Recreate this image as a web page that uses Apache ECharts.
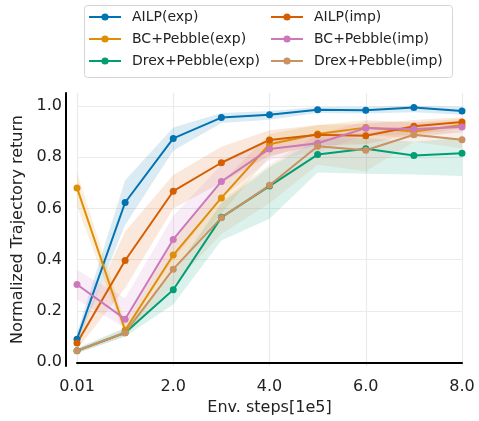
<!DOCTYPE html>
<html>
<head>
<meta charset="utf-8">
<script src="https://cdn.jsdelivr.net/npm/echarts@6/dist/echarts.min.js"></script>
<style>
  html, body { margin: 0; padding: 0; background: #fff; }
  #main { width: 479px; height: 421px; }
</style>
</head>
<body>
<div id="main"></div>
<script>
// x: env steps (1e5)
var steps = ['0.01', '1.0', '2.0', '3.0', '4.0', '5.0', '6.0', '7.0', '8.0'];
var yTicks = [0, 0.2, 0.4, 0.6, 0.8, 1.0];

// mean curves
var ailpExp = [0.09, 0.623, 0.873, 0.954, 0.965, 0.985, 0.983, 0.993, 0.980];
var bcExp   = [0.68, 0.125, 0.418, 0.641, 0.85, 0.89, 0.915, 0.90, 0.925];
var drexExp = [0.045, 0.115, 0.283, 0.565, 0.687, 0.810, 0.833, 0.806, 0.815];
var ailpImp = [0.075, 0.397, 0.667, 0.778, 0.867, 0.887, 0.883, 0.920, 0.937];
var bcImp   = [0.303, 0.168, 0.479, 0.705, 0.832, 0.854, 0.913, 0.910, 0.917];
var drexImp = [0.045, 0.115, 0.363, 0.564, 0.690, 0.842, 0.827, 0.887, 0.868];

// shaded bands (lower / upper)
var ailpExpLo = [0.07, 0.535, 0.825, 0.933, 0.946, 0.972, 0.97, 0.975, 0.965];
var ailpExpHi = [0.115, 0.71, 0.915, 0.972, 0.98, 0.995, 0.995, 1.0, 0.995];
var bcExpLo   = [0.61, 0.10, 0.36, 0.58, 0.80, 0.86, 0.885, 0.875, 0.90];
var bcExpHi   = [0.74, 0.155, 0.47, 0.70, 0.89, 0.925, 0.945, 0.935, 0.95];
var drexExpLo = [0.035, 0.10, 0.225, 0.475, 0.56, 0.74, 0.735, 0.732, 0.726];
var drexExpHi = [0.055, 0.135, 0.35, 0.62, 0.76, 0.87, 0.875, 0.86, 0.875];
var ailpImpLo = [0.05, 0.29, 0.60, 0.70, 0.805, 0.845, 0.85, 0.89, 0.91];
var ailpImpHi = [0.10, 0.51, 0.73, 0.84, 0.905, 0.925, 0.93, 0.945, 0.955];
var bcImpLo   = [0.245, 0.135, 0.40, 0.64, 0.79, 0.82, 0.885, 0.885, 0.895];
var bcImpHi   = [0.36, 0.25, 0.57, 0.77, 0.87, 0.89, 0.94, 0.935, 0.94];
var drexImpLo = [0.035, 0.10, 0.30, 0.50, 0.62, 0.77, 0.745, 0.86, 0.835];
var drexImpHi = [0.055, 0.13, 0.42, 0.63, 0.77, 0.89, 0.895, 0.915, 0.90];

var groups = [
  { name: 'AILP(exp)', color: '#0173B2', mean: ailpExp, lo: ailpExpLo, hi: ailpExpHi },
  { name: 'BC+Pebble(exp)', color: '#DE8F05', mean: bcExp, lo: bcExpLo, hi: bcExpHi },
  { name: 'Drex+Pebble(exp)', color: '#029E73', mean: drexExp, lo: drexExpLo, hi: drexExpHi },
  { name: 'AILP(imp)', color: '#D55E00', mean: ailpImp, lo: ailpImpLo, hi: ailpImpHi },
  { name: 'BC+Pebble(imp)', color: '#CC78BC', mean: bcImp, lo: bcImpLo, hi: bcImpHi },
  { name: 'Drex+Pebble(imp)', color: '#CA9161', mean: drexImp, lo: drexImpLo, hi: drexImpHi }
];

function hexA(hex, a) {
  var r = parseInt(hex.slice(1, 3), 16), g = parseInt(hex.slice(3, 5), 16), b = parseInt(hex.slice(5, 7), 16);
  return 'rgba(' + r + ',' + g + ',' + b + ',' + a + ')';
}

var series = [];
// bands first (stack lower + width), lines on top
groups.forEach(function (g, i) {
  series.push({
    name: 'band-lo-' + i, type: 'line', stack: 'band' + i, silent: true,
    symbol: 'none', lineStyle: { opacity: 0 },
    data: g.lo,
    z: 1
  });
  series.push({
    name: 'band-hi-' + i, type: 'line', stack: 'band' + i, silent: true,
    symbol: 'none', lineStyle: { opacity: 0 },
    areaStyle: { color: hexA(g.color, 0.2) },
    data: g.hi.map(function (v, k) { return +(v - g.lo[k]).toFixed(4); }),
    z: 1
  });
});
groups.forEach(function (g) {
  series.push({
    name: g.name, type: 'line', symbol: 'circle', symbolSize: 7,
    color: g.color,
    lineStyle: { width: 2, color: g.color },
    itemStyle: { color: g.color },
    data: g.mean,
    z: 3
  });
});

var font = 'DejaVu Sans';
var legendCommon = {
  orient: 'vertical', top: 10, padding: 0,
  itemWidth: 32, itemHeight: 9, itemGap: 8,
  textStyle: { fontFamily: font, fontSize: 14, color: '#222', lineHeight: 14, padding: [0, 0, 0, 6] }
};

var chart = echarts.init(document.getElementById('main'));
chart.setOption({
  animation: false,
  graphic: [{
    type: 'rect', left: 84, top: 5, z: -1,
    shape: { width: 368, height: 72, r: 3 },
    style: { fill: 'rgba(255,255,255,0.8)', stroke: '#d5d5d5', lineWidth: 1 }
  }],
  legend: [
    Object.assign({ left: 88, data: ['AILP(exp)', 'BC+Pebble(exp)', 'Drex+Pebble(exp)'] }, legendCommon),
    Object.assign({ left: 270, data: ['AILP(imp)', 'BC+Pebble(imp)', 'Drex+Pebble(imp)'] }, legendCommon)
  ],
  grid: { left: 77, right: 17, top: 93, bottom: 51 },
  xAxis: {
    type: 'category', data: steps, boundaryGap: false, offset: 7,
    name: 'Env. steps[1e5]', nameLocation: 'middle', nameGap: 22,
    nameTextStyle: { fontFamily: font, fontSize: 16, color: '#222' },
    axisLine: { show: true, lineStyle: { color: '#000', width: 2 } },
    axisTick: { show: false },
    axisLabel: { fontFamily: font, fontSize: 16, color: '#222', margin: 6, interval: 1 },
    splitLine: { show: true, interval: 1, lineStyle: { color: '#ebebeb', width: 1.2 } }
  },
  yAxis: {
    type: 'value', min: -0.015, max: 1.05, offset: 11,
    name: 'Normalized Trajectory return', nameLocation: 'middle', nameGap: 36,
    nameTextStyle: { fontFamily: font, fontSize: 16, color: '#222' },
    axisLine: { show: true, lineStyle: { color: '#000', width: 2 } },
    axisTick: { show: false, customValues: yTicks },
    axisLabel: {
      fontFamily: font, fontSize: 16, color: '#222', margin: 4,
      customValues: yTicks,
      formatter: function (v) { return v.toFixed(1); }
    },
    splitLine: { show: true, lineStyle: { color: '#ebebeb', width: 1.2 } }
  },
  series: series
});
</script>
</body>
</html>
